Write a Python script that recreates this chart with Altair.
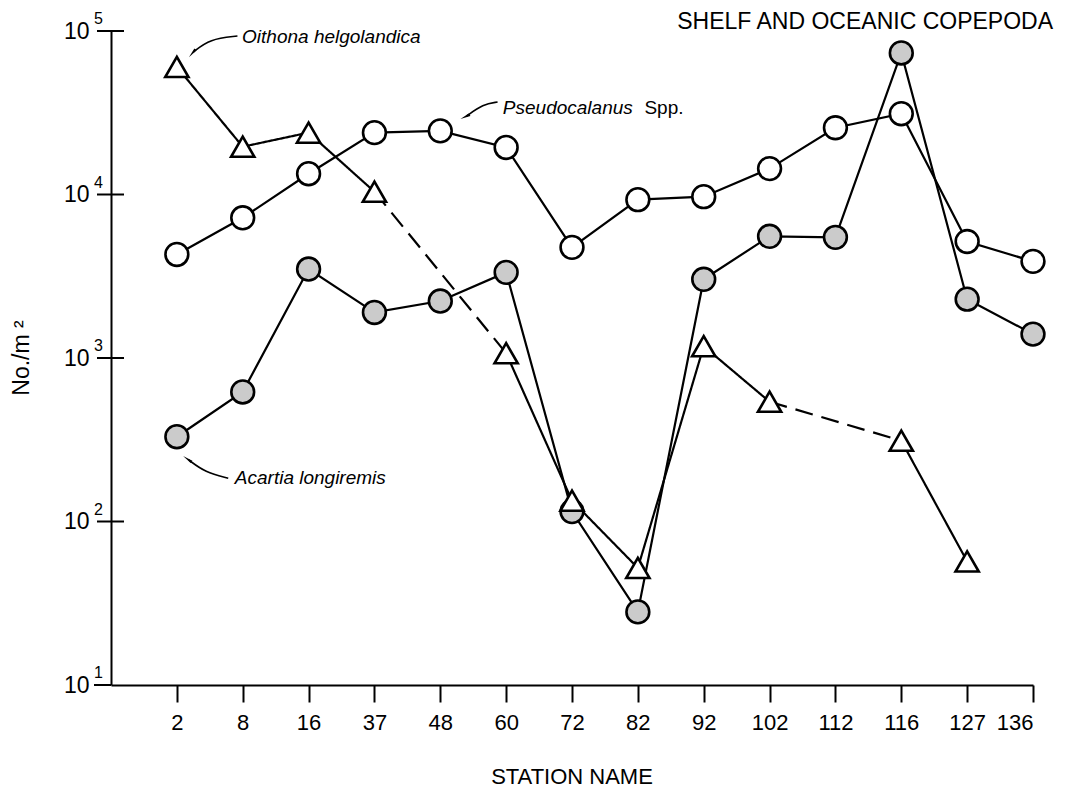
import json
import altair as alt
import pandas as pd

# ---------------- data ----------------
stations = ["2", "8", "16", "37", "48", "60", "72", "82", "92", "102", "112", "116", "127", "136"]
oithona = [60300, 19600, 23900, 10400, None, 1070, 134, 52, 1180, 540, None, 312, 57, None]
pseudocalanus = [4300, 7200, 13400, 23900, 24500, 19400, 4750, 9300, 9700, 14400, 25600, 31200, 5160, 3900]
acartia = [330, 620, 3500, 1900, 2230, 3340, 115, 28, 3030, 5550, 5470, 73400, 2290, 1400]

decades = [10, 100, 1000, 10000, 100000]
exponents = ["1", "2", "3", "4", "5"]

# annotation labels (position in station-index / value space)
label_names = ["Oithona helgolandica", "Pseudocalanus", "Spp.", "Acartia longiremis"]
label_idx = [0.99, 4.95, 7.10, 0.88]
label_val = [91900, 33800, 33800, 184]
label_italic = [True, True, False, True]

# annotation arrows (tail -> tip)
arrow_id = ["o", "o", "o", "p", "p", "p", "a", "a", "a"]
arrow_idx = [0.92, 0.50, 0.25, 4.87, 4.65, 4.40, 0.78, 0.43, 0.18]
arrow_val = [93200, 89400, 74400, 36800, 35700, 30200, 184, 200, 238]
head_angle = {"o": 220, "p": 245, "a": 305}

FONT = "Liberation Sans"

# ---------------- tables ----------------
idx = list(range(len(stations)))

def series_df(vals, name):
    return pd.DataFrame({"idx": idx, "station": stations, "value": vals, "species": name}).dropna()

pseudo_df = series_df(pseudocalanus, "Pseudocalanus")
acartia_df = series_df(acartia, "Acartia")
oith_df = series_df(oithona, "Oithona")

# Oithona segments: dashed where a station is missing in between
seg_rows = []
valid = [i for i, v in enumerate(oithona) if v is not None]
for k in range(len(valid) - 1):
    i, j = valid[k], valid[k + 1]
    style = "dashed" if j - i > 1 else "solid"
    for p in (i, j):
        seg_rows.append({"idx": p, "value": oithona[p], "seg": k, "style": style})
oith_seg = pd.DataFrame(seg_rows)

labels_df = pd.DataFrame({"idx": label_idx, "value": label_val, "text": label_names, "italic": label_italic})
arrows_df = pd.DataFrame({"idx": arrow_idx, "value": arrow_val, "aid": arrow_id,
                          "ord": list(range(len(arrow_id)))})
heads_df = arrows_df.groupby("aid").tail(1).copy()
heads_df["ang"] = heads_df["aid"].map(head_angle)

dec_df = pd.DataFrame({"value": decades, "exp": exponents})

# ---------------- encodings ----------------
x_axis = alt.Axis(values=idx, labelExpr=f"{json.dumps(stations)}[datum.value]", title=None,
                  grid=False, domainColor="black", domainWidth=2, tickColor="black", tickWidth=2,
                  tickSize=17, labelFontSize=22, labelPadding=10, labelColor="black", labelFont=FONT)
y_axis = alt.Axis(values=decades, labelExpr="'10'", title=None, grid=False, ticks=False,
                  domainColor="black", domainWidth=2, labelFontSize=23, labelPadding=22,
                  labelColor="black", labelFont=FONT)

def X():
    return alt.X("idx:Q", scale=alt.Scale(domain=[-1, 13], nice=False, zero=False), axis=x_axis)

def Y():
    return alt.Y("value:Q", scale=alt.Scale(type="log", domain=[10, 100000], nice=False), axis=y_axis)

LW = 2.2

# ---------------- layers ----------------
line_pseudo = alt.Chart(pseudo_df).mark_line(color="black", strokeWidth=LW).encode(x=X(), y=Y())
line_acartia = alt.Chart(acartia_df).mark_line(color="black", strokeWidth=LW).encode(x=X(), y=Y())
line_oith = alt.Chart(oith_seg).mark_line(color="black", strokeWidth=LW).encode(
    x=X(), y=Y(), detail="seg:N",
    strokeDash=alt.StrokeDash("style:N", scale=alt.Scale(domain=["solid", "dashed"], range=[[1, 0], [18, 9]]),
                              legend=None))

pts_pseudo = alt.Chart(pseudo_df).mark_point(shape="circle", filled=True, fill="white", stroke="black",
                                             strokeWidth=2.6, size=520, opacity=1).encode(x=X(), y=Y())
pts_acartia = alt.Chart(acartia_df).mark_point(shape="circle", filled=True, fill="#cbcbcb", stroke="black",
                                               strokeWidth=2.6, size=520, opacity=1).encode(x=X(), y=Y())
pts_oith = alt.Chart(oith_df).mark_point(shape="triangle-up", filled=True, fill="white", stroke="black",
                                         strokeWidth=2.6, size=540, opacity=1).encode(x=X(), y=Y())

# crossing y ticks
yticks = alt.Chart(dec_df[dec_df["value"] > 10]).mark_rule(color="black", strokeWidth=2).encode(
    y=Y(), x=alt.value(-14), x2=alt.value(13))
# x-axis extension left of the y axis
xext = alt.Chart(dec_df[dec_df["value"] == 10]).mark_rule(color="black", strokeWidth=2).encode(
    y=Y(), x=alt.value(-17), x2=alt.value(0))
# exponents of the y labels
exps = alt.Chart(dec_df).mark_text(align="left", baseline="middle", dy=-12, fontSize=16,
                                   font=FONT, color="black").encode(
    y=Y(), x=alt.value(-17), text="exp:N")

# annotations
ann_italic = alt.Chart(labels_df[labels_df["italic"]]).mark_text(
    align="left", baseline="middle", fontSize=19, font=FONT, fontStyle="italic", color="black").encode(
    x=X(), y=Y(), text="text:N")
ann_normal = alt.Chart(labels_df[~labels_df["italic"]]).mark_text(
    align="left", baseline="middle", fontSize=19, font=FONT, color="black").encode(
    x=X(), y=Y(), text="text:N")
ann_lines = alt.Chart(arrows_df).mark_line(color="black", strokeWidth=1.6, interpolate="basis").encode(
    x=X(), y=Y(), detail="aid:N", order="ord:Q")
ann_heads = alt.Chart(heads_df).mark_point(shape="wedge", filled=True, color="black", size=140,
                                           opacity=1).encode(
    x=X(), y=Y(), angle=alt.Angle("ang:Q", scale=None))

one = pd.DataFrame({"k": [0]})
title_txt = alt.Chart(one).mark_text(text="SHELF AND OCEANIC COPEPODA", align="right", baseline="middle",
                                     fontSize=23, font=FONT, color="black").encode(
    x=alt.value(942), y=alt.value(-9))
xtitle = alt.Chart(one).mark_text(text="STATION NAME", align="center", baseline="middle",
                                  fontSize=22, font=FONT, color="black").encode(
    x=alt.value(461), y=alt.value(746))
ytitle = alt.Chart(one).mark_text(text="No./m ²", align="center", baseline="middle", angle=270,
                                  fontSize=23, font=FONT, color="black").encode(
    x=alt.value(-89), y=alt.value(327))

chart = alt.layer(
    line_pseudo, line_acartia, line_oith,
    pts_pseudo, pts_acartia, pts_oith,
    yticks, xext, exps,
    ann_lines, ann_heads, ann_italic, ann_normal,
    title_txt, xtitle, ytitle,
).properties(
    width=922, height=654,
    padding={"left": 103, "top": 23, "right": 29, "bottom": 107},
    autosize=alt.AutoSizeParams(type="none"),
).configure(background="white", view=alt.ViewConfig(stroke=None))

chart.save("out.html", embed_options={"renderer": "svg", "actions": False})
